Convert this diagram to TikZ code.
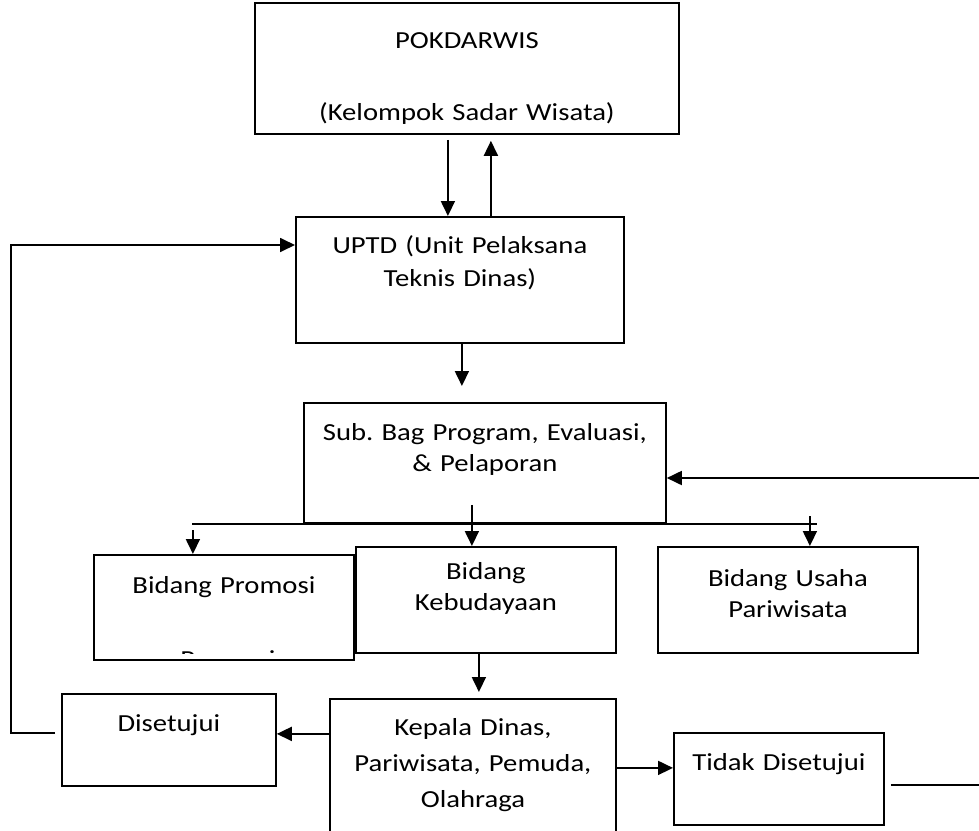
\documentclass[tikz,border=0pt]{standalone}
\usepackage{fontspec}
\setmainfont{Carlito}[FakeStretch=1.17]
\usetikzlibrary{arrows.meta, calc}

\begin{document}
\frenchspacing
\begin{tikzpicture}[x=1pt, y=-1pt, line width=1.8pt, >={Triangle[length=15pt,width=14pt]},
	box/.style={draw, rectangle, anchor=north west, align=center, inner sep=0pt,
		font=\fontsize{24.5}{31}\selectfont}]
	\useasboundingbox (0,0) rectangle (979,830);

	\node[box, text width=424pt, text height=46pt, text depth=85pt] (pokdarwis) at (254,2)
		{POKDARWIS\\[41pt](Kelompok Sadar Wisata)};
	\node[box, text width=328pt, text height=37pt, text depth=89pt] (uptd) at (295,216)
		{UPTD (Unit Pelaksana\\[2pt]Teknis Dinas)};
	\node[box, text width=362pt, text height=38pt, text depth=82pt] (subbag) at (303,402)
		{Sub. Bag Program, Evaluasi,\\\& Pelaporan};
	\node[box, text width=260pt, text height=39pt, text depth=66pt] (promosi) at (93,554)
		{Bidang Promosi};
	\node[box, text width=260pt, text height=33pt, text depth=73pt] (budaya) at (355,546)
		{Bidang\\Kebudayaan};
	\node[box, text width=260pt, text height=40pt, text depth=66pt] (usaha) at (657,546)
		{Bidang Usaha\\Pariwisata};
	\node[box, text width=214pt, text height=38pt, text depth=54pt] (setuju) at (61,693)
		{Disetujui};
	\node[box, text width=286pt, text height=37pt, text depth=113pt] (kepala) at (329,698)
		{Kepala Dinas,\\[5pt]Pariwisata, Pemuda,\\[5pt]Olahraga};
	\node[box, text width=210pt, text height=38pt, text depth=54pt] (tolak) at (673,732)
		{Tidak Disetujui};

	\begin{scope}
		\clip (promosi.north west) rectangle ([yshift=7pt]promosi.south east);
		\node[anchor=base, inner sep=0pt, font=\fontsize{24.5}{31}\selectfont] (promosiB)
			at ([xshift=4pt,yshift=-113pt]promosi.north) {Promosi};
	\end{scope}

	\coordinate (kanan) at (979,478);
	\coordinate (kananBawah) at (979,785);
	\coordinate (kiri) at (11,245);

	\draw[->] ([xshift=-19pt,yshift=-5pt]pokdarwis.south) -- ([xshift=-19pt]pokdarwis.south |- uptd.north);
	\draw[->] ([xshift=24pt]pokdarwis.south |- uptd.north) -- ([xshift=24pt,yshift=-6pt]pokdarwis.south);
	\draw[->] ([xshift=2pt]uptd.south) -- ([xshift=2pt,yshift=16pt]uptd.south |- subbag.north);

	\draw ([xshift=-111pt]subbag.south west) -- ([xshift=150pt]subbag.south east);
	\draw[->] ([xshift=-13pt,yshift=19pt]subbag.south) -- ([xshift=-14pt]budaya.north);
	\draw[->] ([xshift=-31pt,yshift=24pt]promosi.north) -- ([xshift=-31pt]promosi.north);
	\draw[->] ([xshift=22pt,yshift=30pt]usaha.north) -- ([xshift=22pt]usaha.north);
	\draw[->] (kanan) -- (kanan -| subbag.east);

	\draw[->] ([xshift=-7pt]budaya.south) -- ([xshift=-7pt,yshift=6pt]budaya.south |- kepala.north);
	\draw[->] ([yshift=6pt]setuju.east -| kepala.west) -- ([yshift=6pt]setuju.east);
	\draw[->] ([yshift=11pt]tolak.west -| kepala.east) -- ([yshift=11pt]tolak.west);
	\draw ([xshift=6pt]tolak.east |- kananBawah) -- (kananBawah);
	\draw[->] ([xshift=-6pt,yshift=7pt]setuju.west) -| (kiri) -- (kiri -| uptd.west);
\end{tikzpicture}
\end{document}
